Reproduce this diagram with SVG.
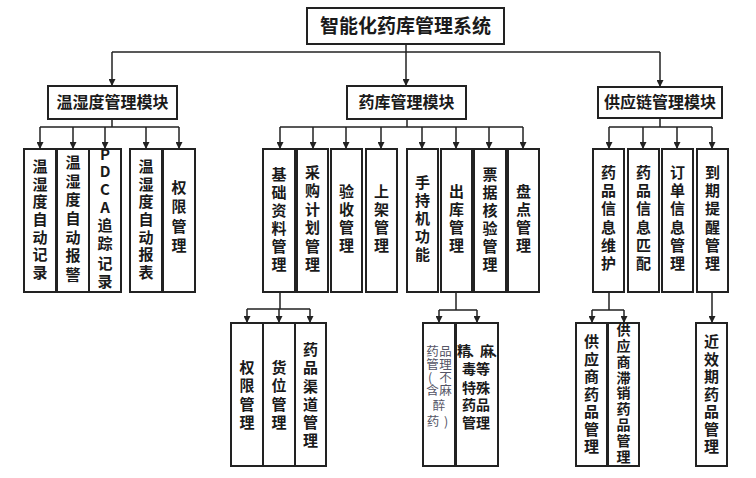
<svg xmlns="http://www.w3.org/2000/svg" width="756" height="478" viewBox="0 0 756 478">
<defs>
<style>
.box{fill:#fff;stroke:#222;stroke-width:2}
.conn{fill:none;stroke:#222;stroke-width:1.5}
.arr{fill:none;stroke:#222;stroke-width:1.5;marker-end:url(#ah)}
text{font-family:"Noto Sans CJK SC","Noto Sans",sans-serif;fill:#1a1a1a;text-anchor:middle}
.tt{font-size:19px;font-weight:bold}
.mt{font-size:16px;font-weight:bold}
.ct{font-size:15px;font-weight:bold}
.st{font-size:14px;font-weight:bold}
.gt{font-size:12.5px;font-weight:normal;fill:#555566}
</style>
<marker id="ah" markerWidth="7" markerHeight="7" refX="7" refY="3.5" orient="auto" markerUnits="userSpaceOnUse">
<path d="M0,0 L7,3.5 L0,7 z" fill="#222"/>
</marker>
</defs>
<rect width="756" height="478" fill="#fff"/>

<g id="connectors">
<path class="arr" d="M406,44 V86"/>
<path class="conn" d="M112,52 H660"/>
<path class="arr" d="M112,52 V86"/>
<path class="arr" d="M660,52 V87"/>
<path class="conn" d="M112,119 V127 M40,127 H179"/>
<path class="arr" d="M40,127 V149"/>
<path class="arr" d="M73,127 V149"/>
<path class="arr" d="M105,127 V149"/>
<path class="arr" d="M146,127 V149"/>
<path class="arr" d="M179,127 V149"/>
<path class="conn" d="M407,119 V127 M280,127 H523"/>
<path class="arr" d="M280,127 V149"/>
<path class="arr" d="M313,127 V149"/>
<path class="arr" d="M346,127 V149"/>
<path class="arr" d="M381,127 V149"/>
<path class="arr" d="M422,127 V149"/>
<path class="arr" d="M456,127 V149"/>
<path class="arr" d="M489,127 V149"/>
<path class="arr" d="M523,127 V149"/>
<path class="conn" d="M660,118 V127 M609,127 H712"/>
<path class="arr" d="M609,127 V149"/>
<path class="arr" d="M643,127 V149"/>
<path class="arr" d="M677,127 V149"/>
<path class="arr" d="M712,127 V149"/>
<path class="conn" d="M280,292 V309 M247,309 H310"/>
<path class="arr" d="M247,309 V323"/>
<path class="arr" d="M279,309 V323"/>
<path class="arr" d="M310,309 V323"/>
<path class="conn" d="M456,292 V310 M439,310 H477"/>
<path class="arr" d="M439,310 V323"/>
<path class="arr" d="M477,310 V323"/>
<path class="conn" d="M609,292 V310 M592,310 H624"/>
<path class="arr" d="M592,310 V323"/>
<path class="arr" d="M624,310 V323"/>
<path class="arr" d="M712,292 V323"/>
</g>

<g id="root">
<rect class="box" x="307" y="8" width="197" height="36"/>
<text class="tt" x="405.5" y="33">智能化药库管理系统</text>
</g>

<g id="m1">
<rect class="box" x="48" y="86" width="129" height="33"/>
<text class="mt" x="112.5" y="108">温湿度管理模块</text>
</g>
<g id="m2">
<rect class="box" x="347" y="86" width="119" height="33"/>
<text class="mt" x="406.5" y="108">药库管理模块</text>
</g>
<g id="m3">
<rect class="box" x="598" y="87" width="124" height="31"/>
<text class="mt" x="660" y="108">供应链管理模块</text>
</g>

<g id="l1">
<rect class="box" x="24" y="149" width="32" height="143"/>
<text class="ct"><tspan x="40" y="172">温</tspan><tspan x="40" y="190">湿</tspan><tspan x="40" y="207">度</tspan><tspan x="40" y="225">自</tspan><tspan x="40" y="243">动</tspan><tspan x="40" y="260">记</tspan><tspan x="40" y="278">录</tspan></text>
</g>
<g id="l2">
<rect class="box" x="57" y="149" width="32" height="143"/>
<text class="ct"><tspan x="73" y="168">温</tspan><tspan x="73" y="187">湿</tspan><tspan x="73" y="205">度</tspan><tspan x="73" y="224">自</tspan><tspan x="73" y="243">动</tspan><tspan x="73" y="261">报</tspan><tspan x="73" y="280">警</tspan></text>
</g>
<g id="l3">
<rect class="box" x="89" y="149" width="32" height="143"/>
<text class="ct"><tspan x="105" y="160">P</tspan><tspan x="105" y="177">D</tspan><tspan x="105" y="195">C</tspan><tspan x="105" y="213">A</tspan><tspan x="105" y="231">追</tspan><tspan x="105" y="249">踪</tspan><tspan x="105" y="269">记</tspan><tspan x="105" y="287">录</tspan></text>
</g>
<g id="l4">
<rect class="box" x="130" y="149" width="32" height="143"/>
<text class="ct"><tspan x="146" y="172">温</tspan><tspan x="146" y="190">湿</tspan><tspan x="146" y="207">度</tspan><tspan x="146" y="225">自</tspan><tspan x="146" y="243">动</tspan><tspan x="146" y="260">报</tspan><tspan x="146" y="278">表</tspan></text>
</g>
<g id="l5">
<rect class="box" x="163" y="149" width="32" height="143"/>
<text class="ct"><tspan x="179" y="193">权</tspan><tspan x="179" y="212">限</tspan><tspan x="179" y="232">管</tspan><tspan x="179" y="251">理</tspan></text>
</g>

<g id="c1">
<rect class="box" x="263" y="149" width="32" height="143"/>
<text class="ct"><tspan x="279" y="180">基</tspan><tspan x="279" y="198">础</tspan><tspan x="279" y="216">资</tspan><tspan x="279" y="234">料</tspan><tspan x="279" y="252">管</tspan><tspan x="279" y="270">理</tspan></text>
</g>
<g id="c2">
<rect class="box" x="297" y="149" width="31" height="143"/>
<text class="ct"><tspan x="312.5" y="178">采</tspan><tspan x="312.5" y="196">购</tspan><tspan x="312.5" y="215">计</tspan><tspan x="312.5" y="233">划</tspan><tspan x="312.5" y="252">管</tspan><tspan x="312.5" y="270">理</tspan></text>
</g>
<g id="c3">
<rect class="box" x="331" y="149" width="31" height="143"/>
<text class="ct"><tspan x="346.5" y="197">验</tspan><tspan x="346.5" y="215">收</tspan><tspan x="346.5" y="233">管</tspan><tspan x="346.5" y="251">理</tspan></text>
</g>
<g id="c4">
<rect class="box" x="366" y="149" width="31" height="143"/>
<text class="ct"><tspan x="381.5" y="197">上</tspan><tspan x="381.5" y="215">架</tspan><tspan x="381.5" y="233">管</tspan><tspan x="381.5" y="251">理</tspan></text>
</g>
<g id="c5">
<rect class="box" x="407" y="149" width="31" height="143"/>
<text class="ct"><tspan x="422.5" y="188">手</tspan><tspan x="422.5" y="206">持</tspan><tspan x="422.5" y="224">机</tspan><tspan x="422.5" y="242">功</tspan><tspan x="422.5" y="260">能</tspan></text>
</g>
<g id="c6">
<rect class="box" x="441" y="149" width="31" height="143"/>
<text class="ct"><tspan x="456.5" y="197">出</tspan><tspan x="456.5" y="215">库</tspan><tspan x="456.5" y="233">管</tspan><tspan x="456.5" y="251">理</tspan></text>
</g>
<g id="c7">
<rect class="box" x="474" y="149" width="32" height="143"/>
<text class="ct"><tspan x="490" y="180">票</tspan><tspan x="490" y="198">据</tspan><tspan x="490" y="216">核</tspan><tspan x="490" y="234">验</tspan><tspan x="490" y="252">管</tspan><tspan x="490" y="270">理</tspan></text>
</g>
<g id="c8">
<rect class="box" x="508" y="149" width="31" height="143"/>
<text class="ct"><tspan x="523.5" y="197">盘</tspan><tspan x="523.5" y="215">点</tspan><tspan x="523.5" y="233">管</tspan><tspan x="523.5" y="251">理</tspan></text>
</g>

<g id="r1">
<rect class="box" x="593" y="149" width="31" height="143"/>
<text class="ct"><tspan x="608.5" y="178">药</tspan><tspan x="608.5" y="196">品</tspan><tspan x="608.5" y="214">信</tspan><tspan x="608.5" y="233">息</tspan><tspan x="608.5" y="251">维</tspan><tspan x="608.5" y="269">护</tspan></text>
</g>
<g id="r2">
<rect class="box" x="628" y="149" width="31" height="143"/>
<text class="ct"><tspan x="643.5" y="178">药</tspan><tspan x="643.5" y="196">品</tspan><tspan x="643.5" y="214">信</tspan><tspan x="643.5" y="233">息</tspan><tspan x="643.5" y="251">匹</tspan><tspan x="643.5" y="269">配</tspan></text>
</g>
<g id="r3">
<rect class="box" x="662" y="149" width="31" height="143"/>
<text class="ct"><tspan x="677.5" y="178">订</tspan><tspan x="677.5" y="196">单</tspan><tspan x="677.5" y="214">信</tspan><tspan x="677.5" y="233">息</tspan><tspan x="677.5" y="251">管</tspan><tspan x="677.5" y="269">理</tspan></text>
</g>
<g id="r4">
<rect class="box" x="697" y="149" width="31" height="143"/>
<text class="ct"><tspan x="712.5" y="178">到</tspan><tspan x="712.5" y="196">期</tspan><tspan x="712.5" y="214">提</tspan><tspan x="712.5" y="233">醒</tspan><tspan x="712.5" y="251">管</tspan><tspan x="712.5" y="269">理</tspan></text>
</g>

<g id="b1">
<rect class="box" x="231" y="323" width="32" height="143"/>
<text class="ct"><tspan x="247" y="373">权</tspan><tspan x="247" y="391">限</tspan><tspan x="247" y="410">管</tspan><tspan x="247" y="428">理</tspan></text>
</g>
<g id="b2">
<rect class="box" x="263" y="323" width="32" height="143"/>
<text class="ct"><tspan x="279" y="373">货</tspan><tspan x="279" y="391">位</tspan><tspan x="279" y="410">管</tspan><tspan x="279" y="428">理</tspan></text>
</g>
<g id="b3">
<rect class="box" x="295" y="323" width="31" height="143"/>
<text class="ct"><tspan x="310.5" y="355">药</tspan><tspan x="310.5" y="373">品</tspan><tspan x="310.5" y="392">渠</tspan><tspan x="310.5" y="410">道</tspan><tspan x="310.5" y="428">管</tspan><tspan x="310.5" y="446">理</tspan></text>
</g>
<g id="b4">
<rect class="box" x="423" y="323" width="32" height="143"/>
<text class="gt"><tspan x="432.5" y="356">药</tspan><tspan x="445.5" y="356">品</tspan><tspan x="432.5" y="369">管</tspan><tspan x="445.5" y="369">理</tspan><tspan x="430" y="382">(</tspan><tspan x="445.5" y="382">不</tspan><tspan x="432.5" y="395">含</tspan><tspan x="445.5" y="395">麻</tspan><tspan x="439" y="410">醉</tspan><tspan x="433" y="426">药</tspan><tspan x="446" y="426">)</tspan></text>
</g>
<g id="b5">
<rect class="box" x="456" y="323" width="42" height="143"/>
<text class="st" x="457" y="356" letter-spacing="-2.5" style="text-anchor:start">精、麻、</text>
<text class="st"><tspan x="469" y="374">毒</tspan><tspan x="483" y="374">等</tspan><tspan x="469" y="393">特</tspan><tspan x="483" y="393">殊</tspan><tspan x="469" y="410">药</tspan><tspan x="483" y="410">品</tspan><tspan x="469" y="428">管</tspan><tspan x="483" y="428">理</tspan></text>
</g>
<g id="b6">
<rect class="box" x="576" y="323" width="31" height="143"/>
<text class="ct"><tspan x="591.5" y="347">供</tspan><tspan x="591.5" y="365">应</tspan><tspan x="591.5" y="382">商</tspan><tspan x="591.5" y="400">药</tspan><tspan x="591.5" y="417">品</tspan><tspan x="591.5" y="435">管</tspan><tspan x="591.5" y="452">理</tspan></text>
</g>
<g id="b7">
<rect class="box" x="608" y="323" width="31" height="143"/>
<text class="st"><tspan x="623.5" y="335">供</tspan><tspan x="623.5" y="351">应</tspan><tspan x="623.5" y="367">商</tspan><tspan x="623.5" y="383">滞</tspan><tspan x="623.5" y="398">销</tspan><tspan x="623.5" y="414">药</tspan><tspan x="623.5" y="430">品</tspan><tspan x="623.5" y="446">管</tspan><tspan x="623.5" y="462">理</tspan></text>
</g>
<g id="b8">
<rect class="box" x="696" y="323" width="31" height="143"/>
<text class="ct"><tspan x="711.5" y="347">近</tspan><tspan x="711.5" y="365">效</tspan><tspan x="711.5" y="382">期</tspan><tspan x="711.5" y="400">药</tspan><tspan x="711.5" y="417">品</tspan><tspan x="711.5" y="435">管</tspan><tspan x="711.5" y="452">理</tspan></text>
</g>
</svg>
